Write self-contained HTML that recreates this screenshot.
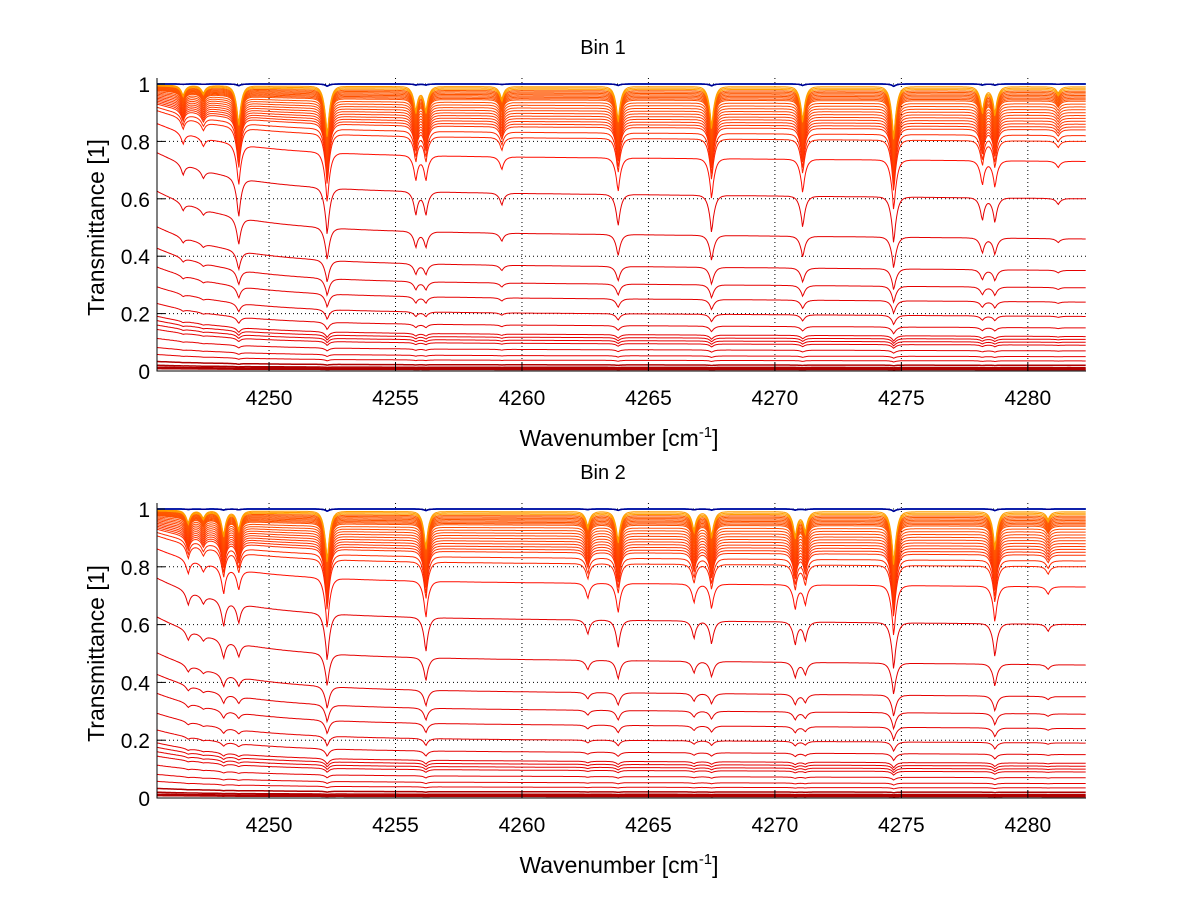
<!DOCTYPE html>
<html><head><meta charset="utf-8"><style>
body{margin:0;background:#fff}
svg{display:block;font-family:"Liberation Sans",sans-serif}
</style></head><body>
<svg id="chart" width="1200" height="901"></svg>
<script>
// ---- data ----
const xTicks=[4250,4255,4260,4265,4270,4275,4280];
const yTicks=[0,0.2,0.4,0.6,0.8,1];
const baseLevels=[1.0,1.0,1.0,0.99,0.985,0.98,0.975,0.97,0.965,0.96,0.955,0.95,0.945,0.94,0.93,0.92,0.91,0.9,0.89,0.88,0.87,0.86,0.85,0.84,0.82,0.80,0.73,0.60,0.46,0.35,0.29,0.24,0.19,0.15,0.12,0.11,0.10,0.09,0.07,0.05,0.035,0.02,0.012,0.008,0.005];
const bin1Lines=[4246.6,4247.4,4248.8,4252.3,4255.8,4256.2,4259.2,4263.8,4267.5,4271.1,4274.7,4278.2,4278.7,4281.2];
const bin1Depths=[0.08,0.06,0.32,0.42,0.2,0.2,0.1,0.28,0.34,0.28,0.44,0.2,0.22,0.05];
const bin2Lines=[4246.8,4247.4,4248.2,4248.8,4252.3,4256.2,4262.6,4263.8,4266.8,4267.5,4270.8,4271.2,4274.7,4278.7,4280.8];
const bin2Depths=[0.1,0.06,0.2,0.15,0.42,0.3,0.12,0.24,0.15,0.2,0.2,0.16,0.44,0.3,0.06];
const panels=[{title:"Bin 1",lines:bin1Lines,depths:bin1Depths,top:84,bottom:371},
              {title:"Bin 2",lines:bin2Lines,depths:bin2Depths,top:509,bottom:798}];
// ---- layout ----
const X0=4245.57,X1=4282.3,L=157,R=1086;
const svg=document.getElementById('chart');
const NS="http://www.w3.org/2000/svg";
function mk(t,a,p){const e=document.createElementNS(NS,t);for(const k in a)e.setAttribute(k,a[k]);(p||svg).appendChild(e);return e;}
function xs(v){return L+(v-X0)/(X1-X0)*(R-L);}
function jet(t){const c=v=>Math.round(255*Math.max(0,Math.min(1,v)));
 return `rgb(${c(1.5-Math.abs(4*t-3))},${c(1.5-Math.abs(4*t-2))},${c(1.5-Math.abs(4*t-1))})`;}
panels.forEach((p,pi)=>{
 const ys=v=>p.bottom-v*(p.bottom-p.top);
 const g=mk('g',{});
 
 
 xTicks.forEach(v=>{const l=mk('line',{x1:xs(v),x2:xs(v),y1:p.top-6,y2:p.bottom,stroke:'#000','stroke-width':1,'stroke-dasharray':'1,3'},g);
  });
 yTicks.forEach(v=>{if(v===0)return;const l=mk('line',{x1:L,x2:R,y1:ys(v),y2:ys(v),stroke:'#000','stroke-width':1,'stroke-dasharray':'1,3'},g);
  });
 for(let i=baseLevels.length-1;i>=0;i--){
  const b=baseLevels[i];let d='';
  const s=b>0.999?0.02:(b<0.6?0.3+0.75*b:0.75-0.7*(b-0.6));
  for(let x=X0;x<=X1+1e-6;x+=0.04){
   let rise=0.55*b*(1-b)*Math.exp(-(x-X0)/3)+0.12*b*(1-b)*(X1-x)/(X1-X0);
   let A=0;p.lines.forEach((c,k)=>{A+=p.depths[k]*Math.exp(-Math.abs(x-c)/0.11);});
   const v=Math.min(1.0,(b+rise)*Math.exp(-s*A));
   d+=(d?'L':'M')+xs(x).toFixed(1)+','+ys(v).toFixed(1);
  }
  let col;
  if(b>0.999)col=['#00008f','#0040ff','#00a0ff'][i%3];
  else if(b<0.03)col='#b00000';
  else if(b>0.975)col=jet(0.72);
  else col=jet(Math.min(0.9,0.78+0.3*(1-b)));
  const path=mk('path',{d:d,fill:'none',stroke:col,'stroke-width':b>0.999||b<0.03?1.5:1},g);
  
  
 }
 const ax=mk('path',{d:`M${L},${p.top-6}V${p.bottom}H${R}`,fill:'none',stroke:'#000','stroke-width':1},g);
 
 xTicks.forEach(v=>{mk('line',{x1:xs(v),x2:xs(v),y1:p.bottom,y2:p.bottom-8,stroke:'#000'},g);
  const t=mk('text',{x:xs(v),y:p.bottom+34,'font-size':21,'text-anchor':'middle'},g);t.textContent=v;
  });
 yTicks.forEach(v=>{mk('line',{x1:L,x2:L+8,y1:ys(v),y2:ys(v),stroke:'#000'},g);
  const t=mk('text',{x:L-7,y:ys(v)+8,'font-size':21,'text-anchor':'end'},g);t.textContent=v;
  });
 const tt=mk('text',{x:603,y:p.top-30,'font-size':20,'text-anchor':'middle'},g);tt.textContent=p.title;
 
 const yl=mk('text',{x:0,y:0,'font-size':23,'text-anchor':'middle',transform:`translate(104,${(p.top+p.bottom)/2}) rotate(-90)`},g);
 yl.textContent='Transmittance [1]';
 
 const xl=mk('text',{x:619,y:p.bottom+75,'font-size':23,'text-anchor':'middle'},g);
 xl.innerHTML='Wavenumber [cm<tspan dy="-9" font-size="15">-1</tspan><tspan dy="9">]</tspan>';
 
});
</script>
</body></html>
